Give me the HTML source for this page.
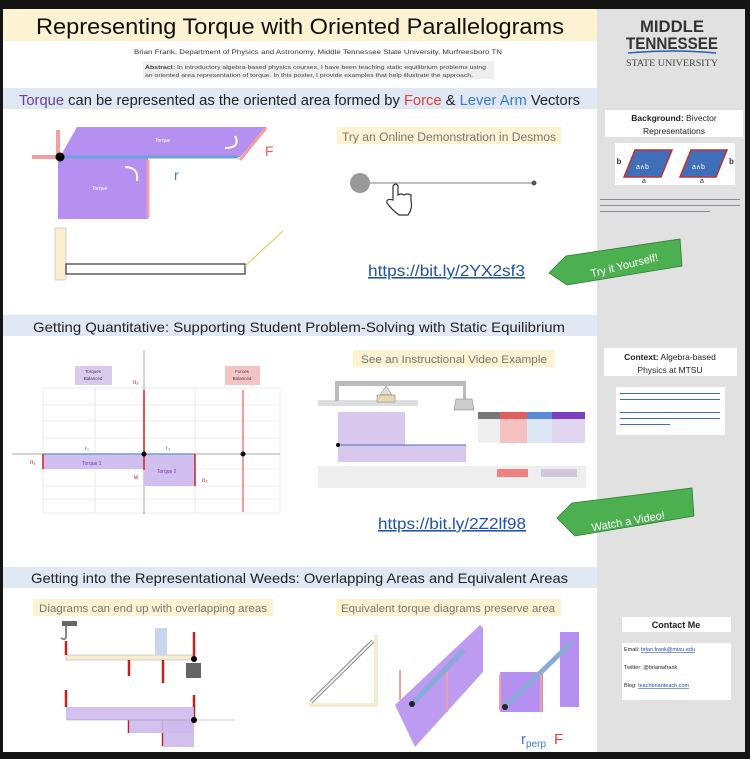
<!DOCTYPE html>
<html><head><meta charset="utf-8"><style>
html,body{margin:0;padding:0;background:#111;}
svg{display:block;font-family:"Liberation Sans",sans-serif;}
</style></head><body>
<svg width="750" height="759" viewBox="0 0 750 759" xmlns="http://www.w3.org/2000/svg">
<rect width="750" height="759" fill="#141414"/>
<rect x="3" y="9" width="594" height="743" fill="#fff"/>
<rect x="597" y="9" width="148" height="743" fill="#e1e1e1"/>
<!-- title -->
<rect x="3" y="9" width="594" height="32" fill="#fdf2d2"/>
<text x="36" y="34" font-size="22" fill="#111" textLength="528" lengthAdjust="spacingAndGlyphs">Representing Torque with Oriented Parallelograms</text>
<text x="134" y="54" font-size="6" fill="#333" textLength="368" lengthAdjust="spacingAndGlyphs">Brian Frank, Department of Physics and Astronomy,  Middle Tennessee State University, Murfreesboro TN</text>
<rect x="143" y="61" width="351" height="18" fill="#eee"/>
<text x="145" y="69" font-size="5" fill="#444" textLength="341" lengthAdjust="spacingAndGlyphs"><tspan font-weight="bold">Abstract:</tspan> In introductory algebra-based physics courses, I have been teaching static equilibrium problems using</text>
<text x="145" y="77" font-size="5" fill="#444" textLength="328" lengthAdjust="spacingAndGlyphs">an oriented area representation of torque. In this poster, I provide examples that help illustrate the approach.</text>
<!-- MTSU -->
<text x="672" y="32" font-size="17" font-weight="bold" text-anchor="middle" fill="#333" textLength="64" lengthAdjust="spacingAndGlyphs">MIDDLE</text>
<text x="672" y="49" font-size="17" font-weight="bold" text-anchor="middle" fill="#333" textLength="92" lengthAdjust="spacingAndGlyphs">TENNESSEE</text>
<path d="M628 53 Q672 49 716 53" stroke="#2a5db0" stroke-width="1.5" fill="none"/>
<text x="672" y="66" font-size="9" text-anchor="middle" fill="#444" font-family="Liberation Serif, serif" textLength="92" lengthAdjust="spacingAndGlyphs">STATE UNIVERSITY</text>
<!-- section 1 -->
<rect x="3" y="88" width="594" height="21" fill="#dfe8f3"/>
<text x="19" y="105" font-size="15" fill="#222" textLength="561" lengthAdjust="spacingAndGlyphs"><tspan fill="#6a3da8">Torque</tspan> can be represented as the oriented area formed by <tspan fill="#e04040">Force</tspan> &amp; <tspan fill="#3a7bd0">Lever Arm</tspan> Vectors</text>
<polygon points="60,157 77,127 267,127 240,157" fill="#b690f0"/>
<rect x="58" y="157" width="90" height="62" fill="#b690f0"/>
<line x1="58" y1="157" x2="238" y2="157" stroke="#6fa0d8" stroke-width="3"/>
<line x1="266" y1="128" x2="240" y2="160" stroke="#f0a0a0" stroke-width="3"/>
<line x1="148" y1="160" x2="148" y2="218" stroke="#f0a0a0" stroke-width="3"/>
<line x1="58" y1="157" x2="58" y2="130" stroke="#f0a0a0" stroke-width="4"/>
<line x1="58" y1="157" x2="32" y2="157" stroke="#f0a0a0" stroke-width="4"/>
<circle cx="60" cy="157" r="4.5" fill="#000"/>
<path d="M235 136 q6 12 -10 12" stroke="#fff" stroke-width="2" fill="none"/>
<path d="M125 167 q14 0 12 14" stroke="#fff" stroke-width="2" fill="none"/>
<text x="265" y="156" font-size="14" fill="#f06050">F</text>
<text x="174" y="180" font-size="14" fill="#3a7bd0">r</text>
<text x="155" y="142" font-size="5" fill="#fff">Torque</text>
<text x="92" y="190" font-size="5" fill="#fff">Torque</text>
<rect x="55" y="228" width="11" height="52" fill="#fbeed0" stroke="#aaa" stroke-width=".5"/>
<rect x="66" y="264" width="179" height="10" fill="#fff" stroke="#333" stroke-width="1.2"/>
<line x1="245" y1="266" x2="283" y2="231" stroke="#f0c040" stroke-width="1"/>
<rect x="337" y="127" width="224" height="17" fill="#fdf2d2"/>
<text x="449" y="141" font-size="11.5" text-anchor="middle" fill="#777" textLength="214" lengthAdjust="spacingAndGlyphs">Try an Online Demonstration in Desmos</text>
<line x1="350" y1="183" x2="535" y2="183" stroke="#aaa" stroke-width="1.5"/>
<circle cx="360" cy="183" r="10" fill="#999"/>
<circle cx="534" cy="183" r="2.5" fill="#555"/>
<path d="M393 186 v14 q-7 -2 -6 3 q5 7 12 12 h9 q5 -7 3 -14 v-6 q-4 -2 -7 0 q-3 -2 -6 0 v-9 q-2 -4 -5 0z" fill="#fff" stroke="#333" stroke-width="1.2"/>
<text x="368" y="276" font-size="15.5" fill="#2050b0" text-decoration="underline" textLength="157" lengthAdjust="spacingAndGlyphs">https://bit.ly/2YX2sf3</text>
<polygon points="549,273 566,256 680,239 682,266 567,285" fill="#4caf50" stroke="#2e7d32" stroke-width=".8"/>
<text x="624" y="269" font-size="11" fill="#fff" text-anchor="middle" transform="rotate(-14 624 264)">Try it Yourself!</text>
<!-- sidebar boxes -->
<rect x="605" y="110" width="138" height="27" fill="#fff"/>
<text x="674" y="121" font-size="8.5" text-anchor="middle" fill="#222"><tspan font-weight="bold">Background:</tspan> Bivector</text>
<text x="674" y="134" font-size="8.5" text-anchor="middle" fill="#222">Representations</text>
<rect x="615" y="143" width="120" height="42" fill="#fff"/>
<polygon points="624,177 635,150 672,150 661,177" fill="#3f6fb8" stroke="#c03030" stroke-width="1.5"/>
<polygon points="680,177 691,150 727,150 716,177" fill="#3f6fb8" stroke="#c03030" stroke-width="1.5"/>
<text x="636" y="169" font-size="7" fill="#fff">a∧b</text>
<text x="692" y="169" font-size="7" fill="#fff">a∧b</text>
<text x="619" y="164" font-size="8" font-weight="bold" text-anchor="middle" fill="#333">b</text>
<text x="729" y="164" font-size="8" font-weight="bold" fill="#333">b</text>
<text x="642" y="183" font-size="7" fill="#333">a</text><text x="700" y="183" font-size="7" fill="#333">a</text>
<rect x="600" y="199" width="140" height="1" fill="#889"/><rect x="600" y="205" width="140" height="1" fill="#889"/><rect x="600" y="211" width="110" height="1" fill="#889"/>
<!-- section 2 -->
<rect x="3" y="315" width="594" height="21" fill="#dfe8f3"/>
<text x="33" y="332" font-size="14" fill="#222" textLength="532" lengthAdjust="spacingAndGlyphs">Getting Quantitative: Supporting Student Problem-Solving with Static Equilibrium</text>
<g stroke="#e4e4e4" stroke-width=".8">
<line x1="43" y1="388" x2="280" y2="388"/><line x1="43" y1="405" x2="280" y2="405"/><line x1="43" y1="421" x2="280" y2="421"/><line x1="43" y1="438" x2="280" y2="438"/><line x1="43" y1="469" x2="280" y2="469"/><line x1="43" y1="486" x2="280" y2="486"/><line x1="43" y1="499" x2="280" y2="499"/><line x1="43" y1="513" x2="280" y2="513"/>
<line x1="43" y1="388" x2="43" y2="513"/><line x1="95" y1="388" x2="95" y2="513"/><line x1="195" y1="388" x2="195" y2="513"/><line x1="280" y1="388" x2="280" y2="513"/>
</g>
<rect x="75" y="366" width="37" height="19" fill="#d8cbee"/><text x="93" y="373" font-size="4.5" text-anchor="middle" fill="#444">Torques</text><text x="93" y="380" font-size="4.5" text-anchor="middle" fill="#444">Balanced</text>
<rect x="225" y="366" width="35" height="19" fill="#f4c4c4"/><text x="242" y="373" font-size="4.5" text-anchor="middle" fill="#444">Forces</text><text x="242" y="380" font-size="4.5" text-anchor="middle" fill="#444">Balanced</text>
<line x1="12" y1="454" x2="280" y2="454" stroke="#aaa"/>
<line x1="144" y1="350" x2="144" y2="514" stroke="#aaa"/>
<rect x="43" y="454" width="101" height="15" fill="#d0bfef"/>
<rect x="144" y="454" width="51" height="32" fill="#d0bfef"/>
<line x1="43" y1="454" x2="195" y2="454" stroke="#6fa0d8" stroke-width="1.5"/>
<line x1="144" y1="454" x2="144" y2="390" stroke="#d02020" stroke-width="1.5"/>
<line x1="144" y1="454" x2="144" y2="470" stroke="#d02020" stroke-width="1.5"/>
<line x1="43" y1="454" x2="43" y2="469" stroke="#d02020" stroke-width="1.5"/>
<line x1="195" y1="454" x2="195" y2="486" stroke="#d02020" stroke-width="1.5"/>
<line x1="243" y1="390" x2="243" y2="512" stroke="#e04040" stroke-width="1"/>
<circle cx="144" cy="454" r="2.5" fill="#000"/><circle cx="243" cy="454" r="2.5" fill="#000"/>
<text x="133" y="384" font-size="6" fill="#c02020">n₁</text><text x="30" y="464" font-size="6" fill="#c02020">n₁</text><text x="134" y="479" font-size="6" fill="#c02020">w</text><text x="202" y="482" font-size="6" fill="#c02020">n₂</text>
<text x="85" y="450" font-size="6" fill="#3a7bd0">r₁</text><text x="166" y="450" font-size="6" fill="#3a7bd0">r₂</text>
<text x="82" y="465" font-size="5" fill="#6a3da8">Torque 1</text><text x="157" y="473" font-size="5" fill="#6a3da8">Torque 2</text>
<rect x="353" y="350" width="202" height="17" fill="#fdf2d2"/>
<text x="454" y="363" font-size="11" text-anchor="middle" fill="#777" textLength="186" lengthAdjust="spacingAndGlyphs">See an Instructional Video Example</text>
<rect x="318" y="375" width="268" height="113" fill="#fff"/>
<rect x="318" y="400" width="100" height="6" fill="#ddd"/>
<rect x="335" y="381" width="131" height="5" fill="#bbb"/>
<rect x="335" y="381" width="4" height="20" fill="#bbb"/>
<rect x="463" y="381" width="3" height="18" fill="#bbb"/>
<polygon points="386,386 392,395 380,395" fill="#ddd" stroke="#777" stroke-width=".5"/>
<rect x="377" y="395" width="18" height="7" fill="#e8d8b0" stroke="#777" stroke-width=".5"/>
<polygon points="456,399 472,399 474,410 454,410" fill="#ccc" stroke="#777" stroke-width=".5"/>
<rect x="338" y="412" width="67" height="33" fill="#d8c8ee"/>
<rect x="338" y="445" width="128" height="17" fill="#d8c8ee"/>
<line x1="338" y1="445" x2="466" y2="445" stroke="#4a6fb0"/>
<circle cx="338" cy="445" r="2" fill="#000"/>
<rect x="478" y="412" width="107" height="31" fill="#eee"/>
<rect x="500" y="412" width="27" height="31" fill="#f4c0c0"/><rect x="527" y="412" width="25" height="31" fill="#dde6f5"/><rect x="552" y="412" width="33" height="31" fill="#e0d6f0"/>
<rect x="478" y="412" width="107" height="7" fill="#777"/><rect x="500" y="412" width="27" height="7" fill="#e06060"/><rect x="527" y="412" width="25" height="7" fill="#5a8ad8"/><rect x="552" y="412" width="33" height="7" fill="#7a3fc0"/>
<rect x="318" y="466" width="268" height="22" fill="#eee"/>
<rect x="497" y="469" width="31" height="8" fill="#f08080"/><rect x="541" y="469" width="36" height="8" fill="#d0c8e0"/>
<text x="378" y="529" font-size="15.5" fill="#2050b0" text-decoration="underline" textLength="148" lengthAdjust="spacingAndGlyphs">https://bit.ly/2Z2lf98</text>
<polygon points="557,518 572,503 692,488 694,516 575,536" fill="#4caf50" stroke="#2e7d32" stroke-width=".8"/>
<text x="628" y="525" font-size="11" fill="#fff" text-anchor="middle" transform="rotate(-10 628 520)">Watch a Video!</text>
<rect x="604" y="348" width="133" height="28" fill="#fff"/>
<text x="670" y="360" font-size="8.5" text-anchor="middle" fill="#222"><tspan font-weight="bold">Context:</tspan> Algebra-based</text>
<text x="670" y="373" font-size="8.5" text-anchor="middle" fill="#222">Physics at MTSU</text>
<rect x="616" y="387" width="109" height="48" fill="#fff"/>
<rect x="620" y="393" width="100" height="1" fill="#3a6bc0"/><rect x="620" y="399" width="100" height="1" fill="#3a6bc0"/><rect x="620" y="412" width="100" height="1" fill="#3a6bc0"/><rect x="620" y="418" width="100" height="1" fill="#3a6bc0"/><rect x="620" y="424" width="50" height="1" fill="#3a6bc0"/>
<!-- section 3 -->
<rect x="3" y="567" width="594" height="21" fill="#dfe8f3"/>
<text x="31" y="583" font-size="14" fill="#222" textLength="537" lengthAdjust="spacingAndGlyphs">Getting into the Representational Weeds: Overlapping Areas and Equivalent Areas</text>
<rect x="33" y="599" width="240" height="17" fill="#fdf2d2"/>
<text x="153" y="612" font-size="11" text-anchor="middle" fill="#777" textLength="228" lengthAdjust="spacingAndGlyphs">Diagrams can end up with overlapping areas</text>
<rect x="336" y="599" width="225" height="17" fill="#fdf2d2"/>
<text x="448" y="612" font-size="11" text-anchor="middle" fill="#777" textLength="214" lengthAdjust="spacingAndGlyphs">Equivalent torque diagrams preserve area</text>
<rect x="62" y="621" width="15" height="5" fill="#666"/>
<path d="M66 626 v10 q0 5 -5 2" stroke="#888" fill="none" stroke-width="2"/>
<rect x="66" y="655" width="128" height="5" fill="#f6ecd0" stroke="#aaa" stroke-width=".5"/>
<rect x="155" y="628" width="12" height="27" fill="#c8d6ee"/>
<rect x="186" y="663" width="15" height="15" fill="#666"/>
<g stroke="#c02020" stroke-width="2.5">
<line x1="66" y1="655" x2="66" y2="641"/><line x1="129" y1="660" x2="129" y2="676"/><line x1="163" y1="660" x2="163" y2="683"/><line x1="194" y1="657" x2="194" y2="632"/>
<line x1="66" y1="707" x2="66" y2="690"/><line x1="129" y1="720" x2="129" y2="733"/><line x1="163" y1="720" x2="163" y2="746"/><line x1="194" y1="720" x2="194" y2="695"/>
</g>
<rect x="66" y="707" width="128" height="13" fill="#cdb9ec" opacity=".9"/>
<rect x="129" y="720" width="65" height="13" fill="#cdb9ec" opacity=".9"/>
<rect x="163" y="720" width="31" height="27" fill="#cdb9ec" opacity=".9"/>
<line x1="66" y1="720" x2="235" y2="720" stroke="#999" stroke-width=".6"/>
<circle cx="194" cy="659" r="3" fill="#000"/><circle cx="194" cy="720" r="3" fill="#000"/>
<rect x="374" y="635" width="4" height="72" fill="#f6ecd0"/><rect x="309" y="703" width="69" height="4" fill="#f6ecd0"/>
<line x1="311" y1="702" x2="373" y2="641" stroke="#888" stroke-width="4"/>
<line x1="311" y1="702" x2="373" y2="641" stroke="#eee" stroke-width="2"/>
<polygon points="395,705 480,625 483,628 483,672 415,747" fill="#b690f0" opacity=".9"/>
<line x1="412" y1="704" x2="464" y2="650" stroke="#8aaad8" stroke-width="5"/>
<line x1="400" y1="700" x2="400" y2="670" stroke="#f0a0a0" stroke-width="2"/>
<line x1="447" y1="672" x2="447" y2="712" stroke="#f0a0a0" stroke-width="2"/>
<circle cx="412" cy="704" r="3" fill="#222"/>
<rect x="500" y="672" width="43" height="40" fill="#b690f0"/>
<rect x="560" y="632" width="19" height="75" fill="#b690f0"/>
<line x1="505" y1="707" x2="572" y2="642" stroke="#8aaad8" stroke-width="5"/>
<line x1="500" y1="710" x2="500" y2="675" stroke="#f0a0a0" stroke-width="2"/>
<line x1="541" y1="675" x2="541" y2="712" stroke="#f0a0a0" stroke-width="2"/>
<circle cx="505" cy="707" r="3" fill="#222"/>
<text x="521" y="744" font-size="15" fill="#3a7bd0">r<tspan font-size="10" dy="3">perp</tspan></text>
<text x="554" y="744" font-size="15" fill="#e04040">F</text>
<rect x="622" y="617" width="109" height="15" fill="#fff"/>
<text x="676" y="628" font-size="9" font-weight="bold" text-anchor="middle" fill="#222">Contact Me</text>
<rect x="622" y="643" width="109" height="57" fill="#fff"/>
<text x="624" y="651" font-size="5.5" fill="#222">Email: <tspan fill="#2050b0" text-decoration="underline">brian.frank@mtsu.edu</tspan></text>
<text x="624" y="669" font-size="5.5" fill="#222">Twitter: @brianwfrank</text>
<text x="624" y="687" font-size="5.5" fill="#222">Blog: <tspan fill="#2050b0" text-decoration="underline">teachbrianteach.com</tspan></text>
</svg>
</body></html>
